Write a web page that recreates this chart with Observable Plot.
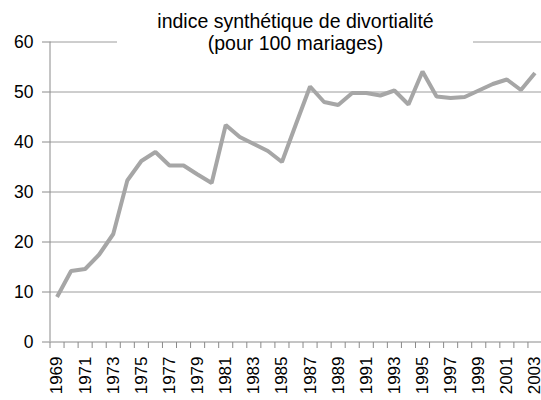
<!DOCTYPE html>
<html>
<head>
<meta charset="utf-8">
<script src="https://cdn.jsdelivr.net/npm/d3@7"></script>
<script src="https://cdn.jsdelivr.net/npm/@observablehq/plot@0.6"></script>
<style>
  html, body { margin: 0; padding: 0; background: #fff; }
  #chart svg { display: block; }
</style>
</head>
<body>
<div id="chart"></div>
<script>
const years = d3.range(1969, 2004);
const values = [9.0, 14.2, 14.6, 17.5, 21.6, 32.3, 36.2, 38.0, 35.3, 35.3,
                33.5, 31.8, 43.4, 41.0, 39.6, 38.2, 36.0, 43.6, 51.1, 48.0,
                47.4, 49.8, 49.8, 49.3, 50.3, 47.5, 54.1, 49.1, 48.8, 49.0,
                50.3, 51.6, 52.5, 50.4, 53.8];
const yTicks = [0, 10, 20, 30, 40, 50, 60];
const xTickLabels = d3.range(1969, 2004, 2);
const titleLines = ["indice synthétique de divortialité", "(pour 100 mariages)"];

const data = years.map((year, i) => ({year, value: values[i]}));
const xDomain = [years[0] - 0.5, years[years.length - 1] + 0.5];
const boundaries = d3.range(years[0] - 0.5, years[years.length - 1] + 1, 1);

const font = "Liberation Sans, Arial, sans-serif";

const titleBox = (index, scales, values, dims) => {
  const cx = (dims.marginLeft + dims.width - dims.marginRight) / 2;
  const r = document.createElementNS("http://www.w3.org/2000/svg", "rect");
  r.setAttribute("x", cx - 178);
  r.setAttribute("y", 0);
  r.setAttribute("width", 356);
  r.setAttribute("height", 56);
  r.setAttribute("fill", "white");
  return r;
};

const chart = Plot.plot({
  width: 541,
  height: 400,
  marginLeft: 49,
  marginRight: 0,
  marginTop: 41,
  marginBottom: 58,
  style: {fontFamily: font, fontSize: "17px", color: "#000", background: "#fff"},
  x: {domain: xDomain, range: [49.5, 541.5]},
  y: {domain: [0, 60], range: [341.5, 41.5]},
  marks: [
    Plot.ruleY(yTicks.filter(d => d > 0), {stroke: "#9c9c9c", strokeWidth: 1}),
    titleBox,
    Plot.ruleX([xDomain[0]], {y1: 0, y2: 60, stroke: "#8a8a8a", strokeWidth: 1}),
    Plot.ruleY([0], {stroke: "#8a8a8a", strokeWidth: 1}),
    Plot.axisY({ticks: yTicks, tickSize: 7, tickPadding: 9, stroke: "#8a8a8a", fill: "#000", label: null, fontSize: 17.5}),
    Plot.axisX({ticks: boundaries, tickFormat: () => "", tickSize: 6, stroke: "#8a8a8a", label: null}),
    Plot.axisX({ticks: xTickLabels, tickFormat: d => String(d), tickSize: 0, tickPadding: 14, tickRotate: -90, fill: "#000", label: null, fontSize: 17}),
    Plot.line(data, {x: "year", y: "value", stroke: "#a6a6a6", strokeWidth: 4, strokeLinejoin: "miter", strokeLinecap: "butt"}),
    Plot.text([titleLines[0]], {text: d => d, frameAnchor: "top", dy: -14, fontSize: 19.5, fill: "#000", lineAnchor: "bottom"}),
    Plot.text([titleLines[1]], {text: d => d, frameAnchor: "top", dy: 8, fontSize: 19.5, fill: "#000", lineAnchor: "bottom"})
  ]
});
document.getElementById("chart").appendChild(chart);
</script>
</body>
</html>
